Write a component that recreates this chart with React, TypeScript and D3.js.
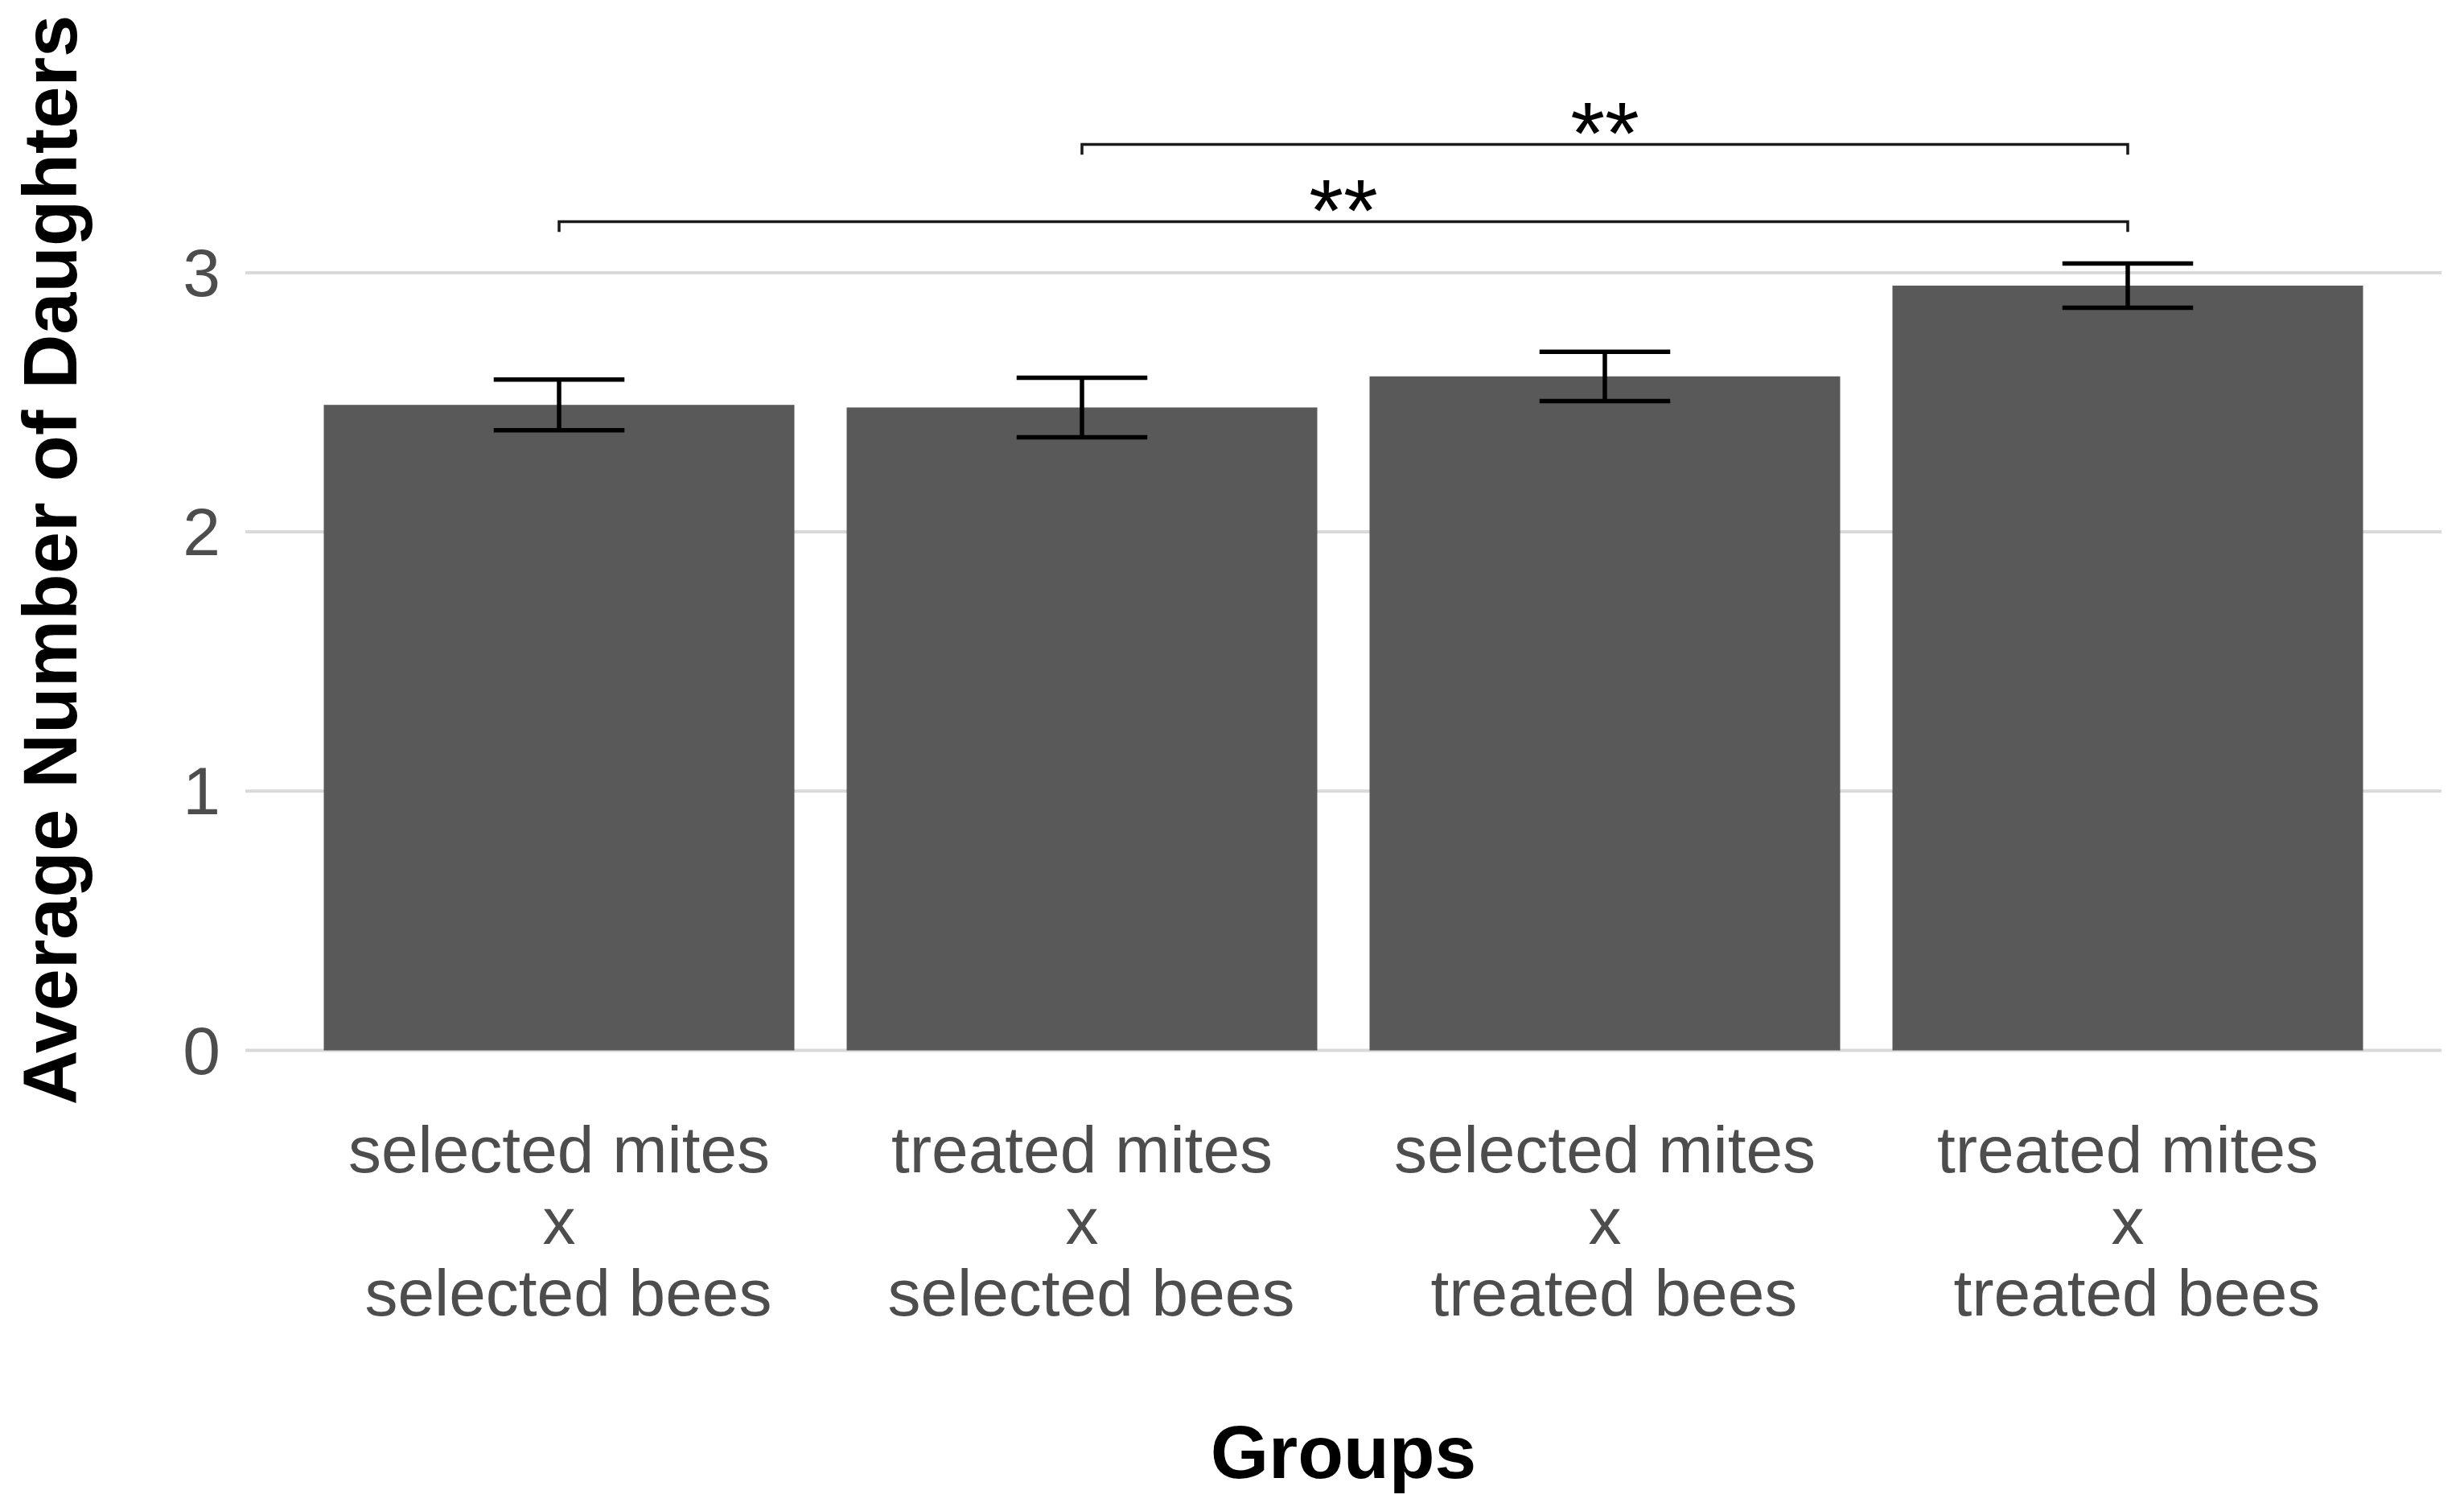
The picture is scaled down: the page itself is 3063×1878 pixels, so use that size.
import React from "react";
import * as d3 from "d3";

const categories: string[][] = [
  ["selected mites", "x", " selected bees"],
  ["treated mites", "x", " selected bees"],
  ["selected mites", "x", " treated bees"],
  ["treated mites", "x", " treated bees"],
];
const means: number[] = [2.49, 2.48, 2.6, 2.95];
const stdErrors: number[] = [0.098, 0.115, 0.095, 0.085];
const yTicks: number[] = [0, 1, 2, 3];
const sigFrom: number[] = [1, 0];
const sigTo: number[] = [3, 3];
const sigY: number[] = [3.495, 3.197];
const sigLabels: string[] = ["**", "**"];

const W = 3063;
const H = 1878;
const panelLeft = 305;
const panelRight = 3035;
const y0px = 1305.5;
const unitPx = 322.2;

export default function App() {
  const ids = categories.map((_, i) => String(i));
  const x = d3
    .scaleBand<string>()
    .domain(ids)
    .range([panelLeft, panelRight])
    .paddingInner(0.1)
    .paddingOuter(0.15);
  const y = d3
    .scaleLinear()
    .domain([0, 3.5])
    .range([y0px, y0px - 3.5 * unitPx]);
  const cx = (i: number) => (x(String(i)) as number) + x.bandwidth() / 2;
  const capHalf = (x.step() * 0.25) / 2;
  const tip = 0.04;
  const font = "'Liberation Sans', Arial, Helvetica, sans-serif";

  return (
    <svg
      width={W}
      height={H}
      style={{ position: "absolute", left: 0, top: 0, background: "#fff" }}
      fontFamily={font}
    >
      <rect x={0} y={0} width={W} height={H} fill="#fff" />
      {yTicks.map((t) => (
        <g key={t}>
          <line
            x1={panelLeft}
            x2={panelRight}
            y1={y(t)}
            y2={y(t)}
            stroke="#D9D9D9"
            strokeWidth={4}
          />
          <text
            x={274}
            y={y(t)}
            textAnchor="end"
            dominantBaseline="central"
            fontSize={84}
            fill="#4D4D4D"
          >
            {t}
          </text>
        </g>
      ))}
      {means.map((m, i) => (
        <rect
          key={i}
          x={x(String(i))}
          y={y(m)}
          width={x.bandwidth()}
          height={y(0) - y(m)}
          fill="#595959"
        />
      ))}
      {means.map((m, i) => (
        <g key={i} stroke="#000" strokeWidth={5.5}>
          <line x1={cx(i)} x2={cx(i)} y1={y(m + stdErrors[i])} y2={y(m - stdErrors[i])} />
          <line x1={cx(i) - capHalf} x2={cx(i) + capHalf} y1={y(m + stdErrors[i])} y2={y(m + stdErrors[i])} />
          <line x1={cx(i) - capHalf} x2={cx(i) + capHalf} y1={y(m - stdErrors[i])} y2={y(m - stdErrors[i])} />
        </g>
      ))}
      {sigLabels.map((lab, k) => {
        const xa = cx(sigFrom[k]);
        const xb = cx(sigTo[k]);
        const yy = sigY[k];
        const path = `M${xa},${y(yy - tip)}L${xa},${y(yy)}L${xb},${y(yy)}L${xb},${y(yy - tip)}`;
        return (
          <g key={k}>
            <path d={path} fill="none" stroke="#1a1a1a" strokeWidth={3.5} />
            <text
              x={(xa + xb) / 2}
              y={y(yy) + 24}
              textAnchor="middle"
              fontSize={110}
              fill="#000"
            >
              {lab}
            </text>
          </g>
        );
      })}
      {categories.map((lines, i) => (
        <text
          key={i}
          textAnchor="middle"
          fontSize={82}
          fill="#4D4D4D"
          style={{ whiteSpace: "pre" }}
          xmlSpace="preserve"
        >
          {lines.map((ln, j) => (
            <tspan key={j} x={cx(i)} y={1457 + j * 89}>
              {ln}
            </tspan>
          ))}
        </text>
      ))}
      <text
        x={(panelLeft + panelRight) / 2}
        y={1837}
        textAnchor="middle"
        fontSize={93}
        fontWeight="bold"
        fill="#000"
      >
        Groups
      </text>
      <text
        transform={`translate(95, 696) rotate(-90)`}
        textAnchor="middle"
        fontSize={94}
        fontWeight="bold"
        fill="#000"
      >
        Average Number of Daughters
      </text>
    </svg>
  );
}
